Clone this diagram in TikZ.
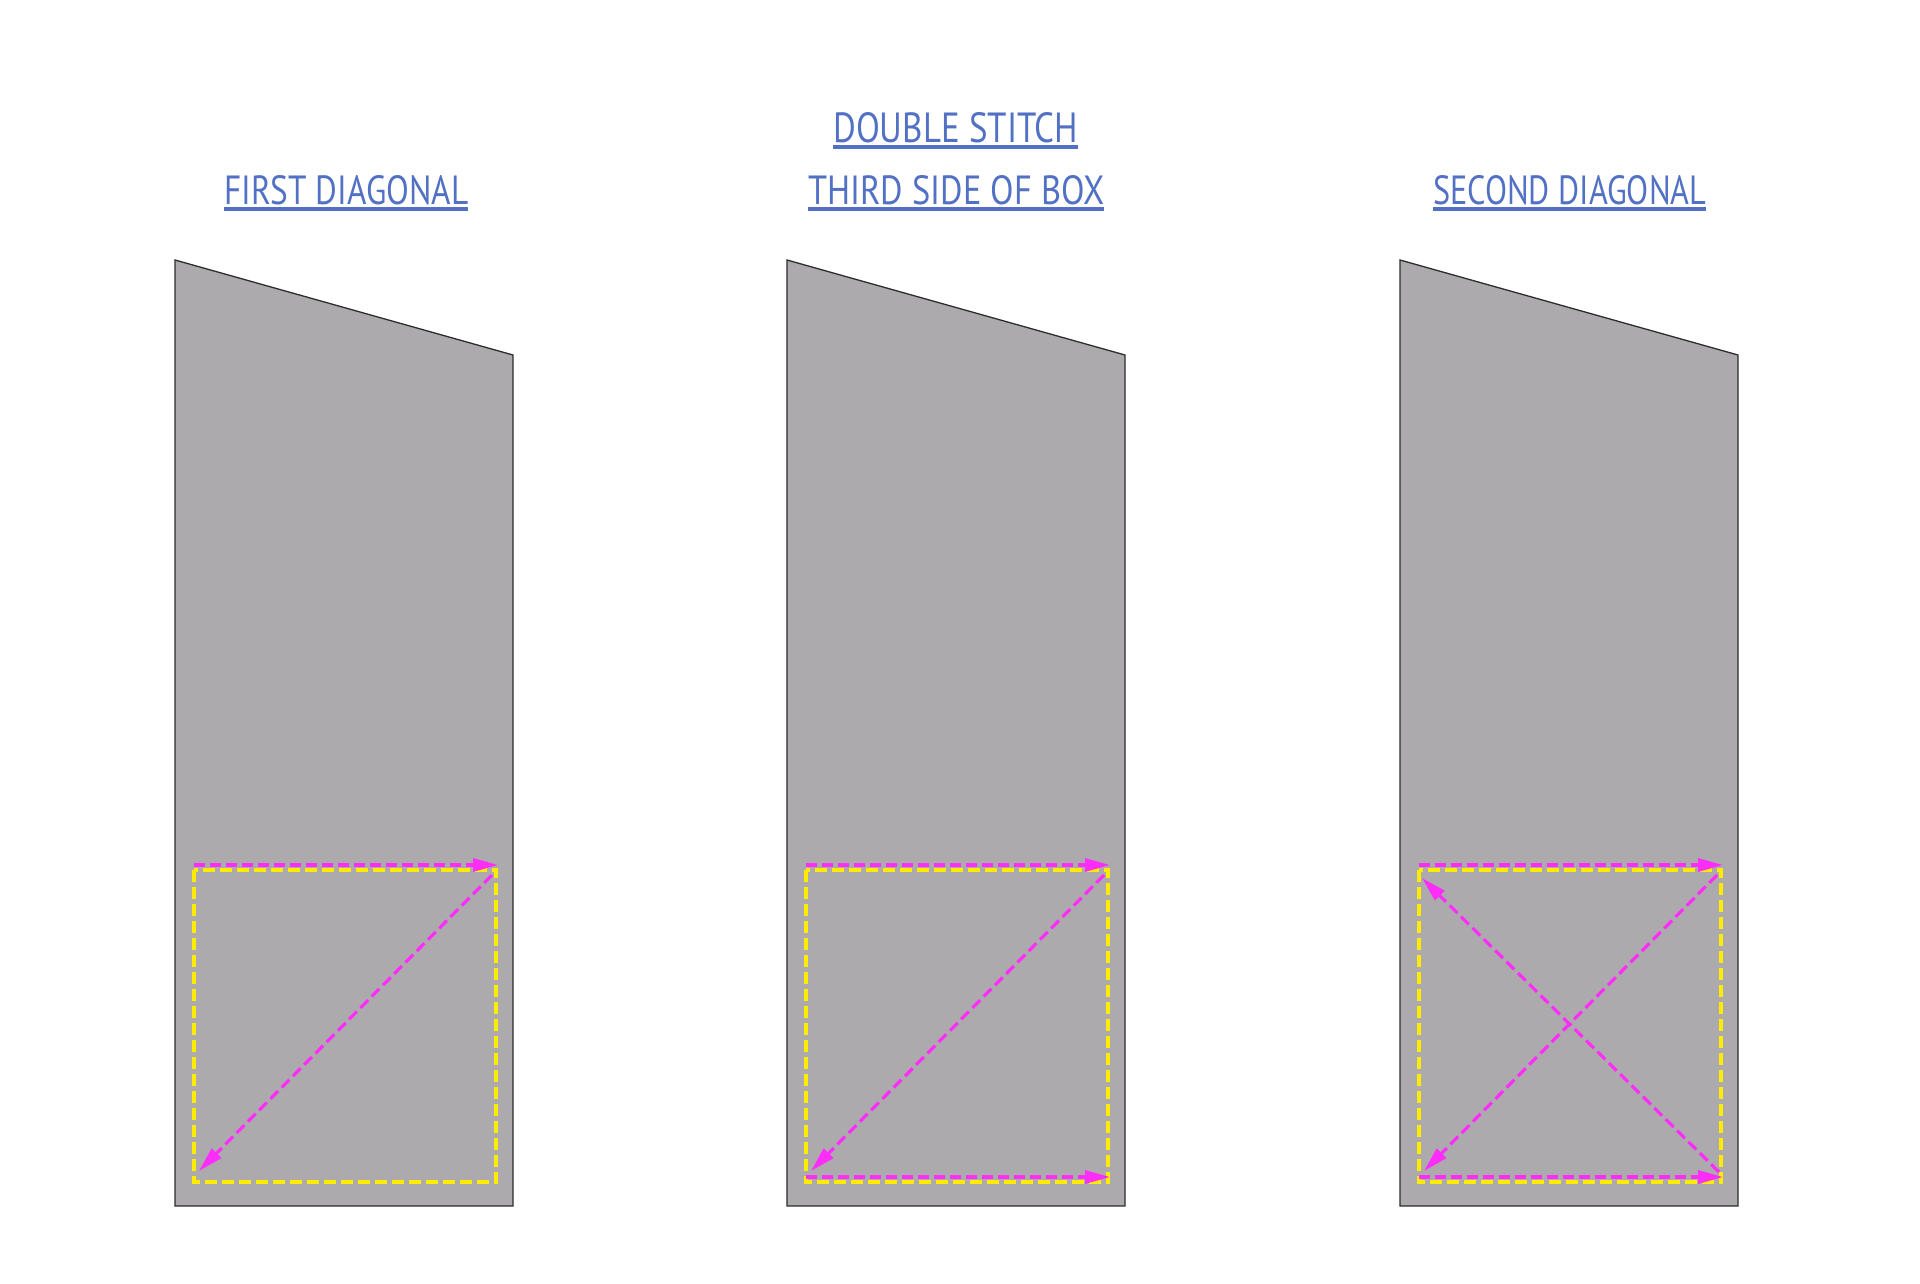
\documentclass[tikz,border=0pt]{standalone}
\usepackage{fontspec}
\setmainfont{PT Sans}
\usetikzlibrary{arrows.meta}
\definecolor{fabric}{RGB}{172,170,173}
\definecolor{edgecol}{RGB}{45,45,45}
\definecolor{stitchy}{RGB}{255,236,0}
\definecolor{stitchm}{RGB}{255,45,250}
\definecolor{titleblue}{RGB}{82,113,196}
\tikzset{
  fabricshape/.style={fill=fabric, draw=edgecol, line width=1.3pt, line join=miter},
  seambox/.style={draw=stitchy, line width=3.6pt, dash pattern=on 12pt off 5pt},
  stitch/.style={draw=stitchm, line width=3.2pt, dash pattern=on 11pt off 5pt, -{Triangle[length=25pt,width=13pt]}},
  titletext/.style={text=titleblue, inner sep=0pt, anchor=south west},
  uline/.style={draw=titleblue, line width=4pt}
}
\begin{document}
\begin{tikzpicture}[x=1pt,y=-1pt]
\useasboundingbox (0,0) rectangle (1920,1284);
\fill[white] (0,0) rectangle (1920,1284);

% titles
\node[titletext] (tmain) at (833,143) {\resizebox{245pt}{30pt}{DOUBLE STITCH}};
\node[titletext] (t1) at (224,205) {\resizebox{244pt}{29pt}{FIRST DIAGONAL}};
\node[titletext] (t2) at (808,205) {\resizebox{296pt}{29pt}{THIRD SIDE OF BOX}};
\node[titletext] (t3) at (1433,205) {\resizebox{273pt}{29pt}{SECOND DIAGONAL}};
\foreach \t in {tmain,t1,t2,t3}{
  \draw[uline] ([yshift=-4pt]\t.south west) -- ([yshift=-4pt]\t.south east);
}

% panels
\foreach \i/\dx in {1/0,2/612,3/1225}{
  \begin{scope}[xshift=\dx pt]
    \coordinate (f\i-a) at (175,260);
    \coordinate (f\i-b) at (513,355);
    \coordinate (f\i-c) at (513,1206);
    \coordinate (f\i-d) at (175,1206);
    \draw[fabricshape] (f\i-a) -- (f\i-b) -- (f\i-c) -- (f\i-d) -- cycle;
    \coordinate (y\i-tl) at (194,870);
    \coordinate (y\i-br) at (496,1182);
    \draw[seambox] (y\i-tl) rectangle (y\i-br);
    \coordinate (m\i-ts) at (194,865);
    \coordinate (m\i-te) at (498,865);
    \coordinate (m\i-ds) at (492,875);
    \coordinate (m\i-de) at (199,1171);
    \draw[stitch] (m\i-ts) -- (m\i-te);
    \draw[stitch] (m\i-ds) -- (m\i-de);
  \end{scope}
}
\begin{scope}[xshift=612pt]
  \coordinate (b2-s) at (194,1177);
  \coordinate (b2-e) at (498,1177);
  \draw[stitch] (b2-s) -- (b2-e);
\end{scope}
\begin{scope}[xshift=1225pt]
  \coordinate (b3-s) at (194,1177);
  \coordinate (b3-e) at (498,1177);
  \draw[stitch] (b3-s) -- (b3-e);
  \coordinate (x3-s) at (494,1172);
  \coordinate (x3-e) at (197,878);
  \draw[stitch] (x3-s) -- (x3-e);
\end{scope}
\end{tikzpicture}
\end{document}
